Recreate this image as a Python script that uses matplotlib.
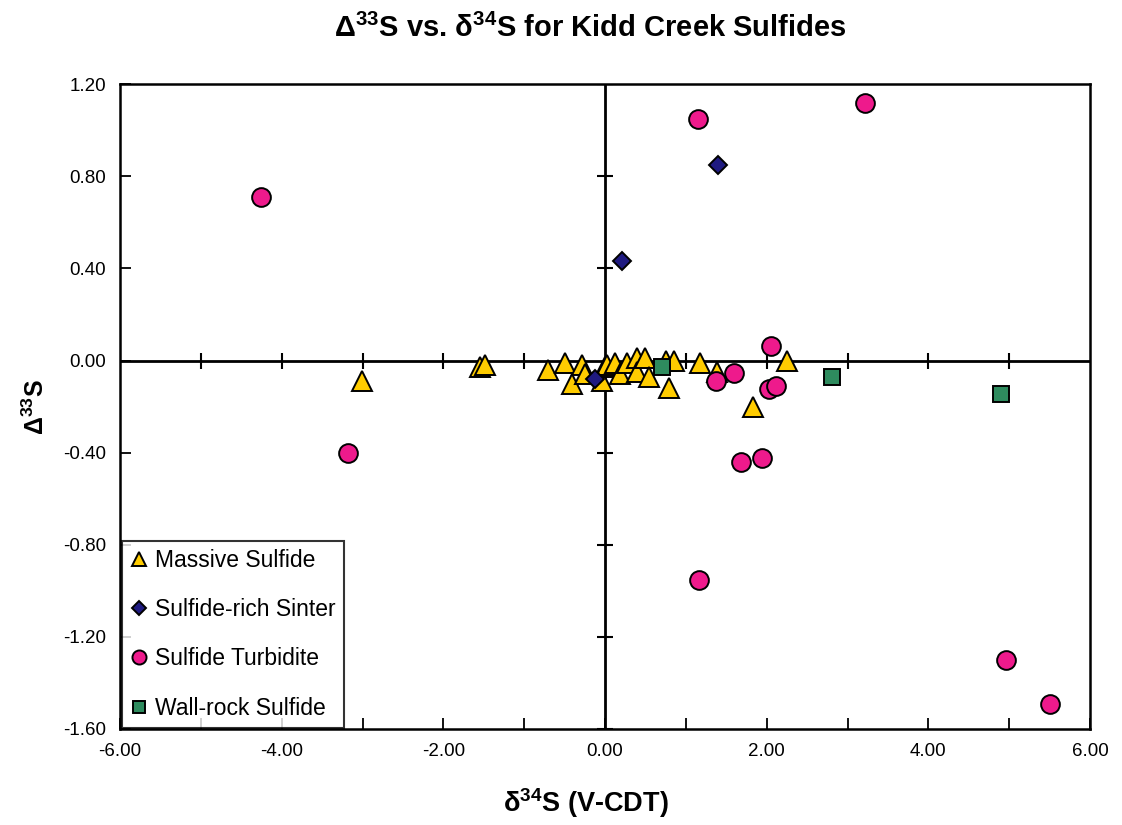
import numpy as np
import matplotlib
matplotlib.use("Agg")
import matplotlib.pyplot as plt

plt.rcParams['font.family'] = ['Liberation Sans', 'DejaVu Sans']
plt.rcParams['mathtext.default'] = 'regular'

# data
massive_x = [-3.01, -1.55, -1.49, -0.70, -0.50, -0.41, -0.29, -0.25, -0.04, 0.00, 0.02, 0.12,
             0.19, 0.27, 0.39, 0.39, 0.49, 0.54, 0.76, 0.79, 0.85, 1.18, 1.38, 1.83, 2.25]
massive_y = [-0.09, -0.03, -0.02, -0.04, -0.01, -0.10, -0.02, -0.06, -0.09, -0.03, -0.02, -0.01,
             -0.06, -0.01, 0.01, -0.05, 0.01, -0.07, 0.00, -0.12, 0.00, -0.01, -0.05, -0.20, 0.00]

sinter_x = [-0.12, 0.21, 1.40]
sinter_y = [-0.08, 0.43, 0.85]

turbidite_x = [-4.26, -3.18, 1.15, 3.22, 2.05, 1.37, 1.60, 2.03, 2.12, 1.68, 1.94, 1.16, 4.96, 5.51]
turbidite_y = [0.71, -0.40, 1.05, 1.12, 0.065, -0.09, -0.055, -0.125, -0.11, -0.44, -0.425, -0.955, -1.30, -1.49]

wallrock_x = [0.71, 2.81, 4.90]
wallrock_y = [-0.03, -0.07, -0.145]

x_ticks = np.arange(-6, 7, 1)
y_ticks = np.round(np.arange(-1.6, 1.21, 0.4), 2)


def main():
    fig = plt.figure(figsize=(11.22, 8.25), dpi=100)
    ax = fig.add_axes([0.107, 0.1164, 0.8645, 0.7816])

    # axes crossing at the origin
    ax.axhline(0, color='black', lw=2, zorder=1)
    ax.axvline(0, color='black', lw=2, zorder=1)
    xt = x_ticks[(x_ticks != 0) & (np.abs(x_ticks) != 6)]
    ax.plot(xt, np.zeros(len(xt)), ls='none', marker='|', ms=11, mew=1.5, color='black', zorder=1)
    yt = y_ticks[(y_ticks != 0)]
    ax.plot(np.zeros(len(yt)), yt, ls='none', marker='_', ms=11, mew=1.5, color='black', zorder=1)

    kw = dict(ls='none', mec='black', mew=1.4, zorder=3)
    ax.plot(massive_x, massive_y, marker='^', ms=14, mfc='#FFCC00', label='Massive Sulfide', **kw)
    ax.plot(sinter_x, sinter_y, marker='D', ms=9, mfc='#1F1A80', label='Sulfide-rich Sinter', **kw)
    ax.plot(turbidite_x, turbidite_y, marker='o', ms=13.5, mfc='#EE1A8C', label='Sulfide Turbidite', **kw)
    ax.plot(wallrock_x, wallrock_y, marker='s', ms=12, mfc='#2E8B5E', label='Wall-rock Sulfide', **kw)

    ax.set_xlim(-6, 6)
    ax.set_ylim(-1.6, 1.2)
    ax.set_xticks(x_ticks)
    ax.set_xticklabels([f'{v:.2f}' if v % 2 == 0 else '' for v in x_ticks])
    ax.set_yticks(y_ticks)
    ax.set_yticklabels([f'{abs(v):.2f}' if v == 0 else f'{v:.2f}' for v in y_ticks])
    ax.tick_params(direction='in', length=8, width=1.3, labelsize=13.5, pad=10)
    for s in ax.spines.values():
        s.set_linewidth(1.8)

    fig.text(0.526, 0.966, r'$\Delta^{33}$S vs. $\delta^{34}$S for Kidd Creek Sulfides',
             fontsize=21, fontweight='bold', ha='center', va='center')
    fig.text(0.522, 0.027, r'$\delta^{34}$S (V-CDT)', fontsize=19.5, fontweight='bold',
             ha='center', va='center')
    ax.set_ylabel(r'$\Delta^{33}$S', fontsize=18, fontweight='bold', labelpad=10)

    leg = ax.legend(loc='lower left', bbox_to_anchor=(0.002, 0.002), fontsize=16.5, frameon=True,
                    fancybox=False, edgecolor='black', markerscale=0.75, handlelength=0.8,
                    handletextpad=0.3, labelspacing=1.15, borderpad=0.35, borderaxespad=0)
    leg.get_frame().set_linewidth(1.5)
    leg.set_zorder(5)

    fig.savefig('out.png', dpi=100)


if __name__ == "__main__":
    main()
